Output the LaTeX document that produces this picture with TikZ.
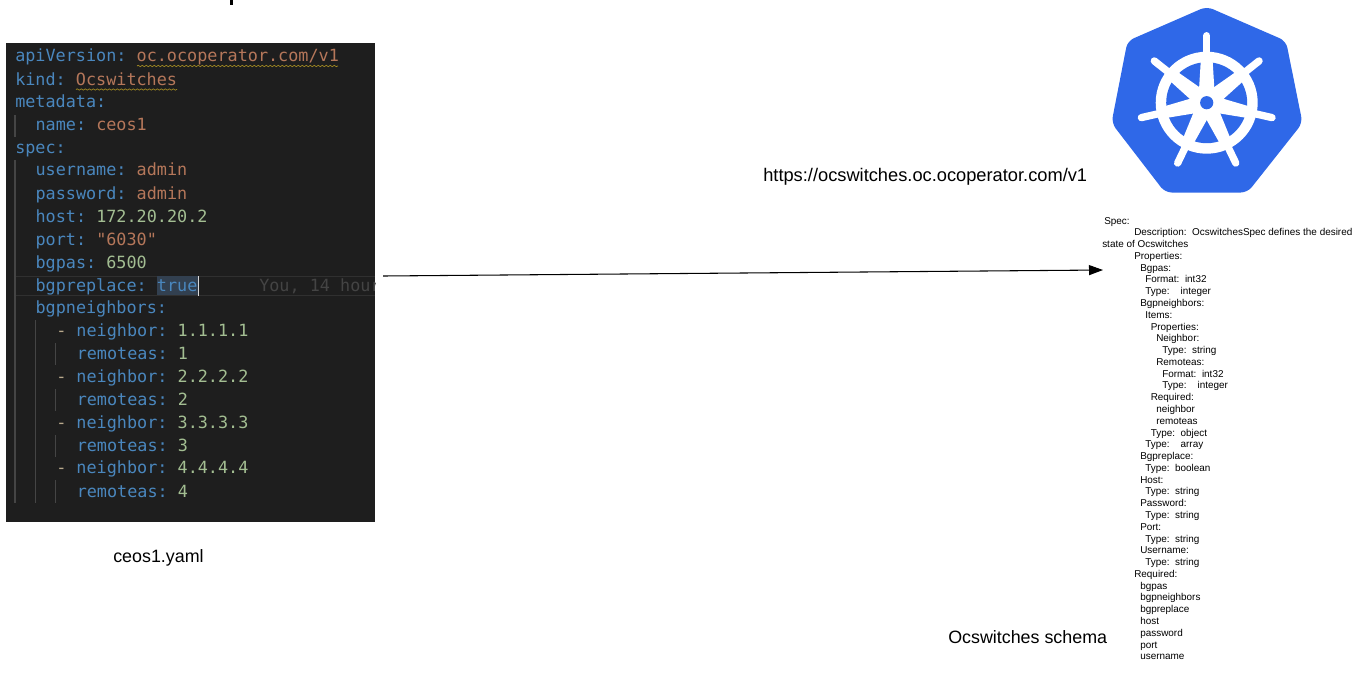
\documentclass[tikz,border=0pt]{standalone}
\usepackage{fontspec}
\usepackage{tikz}
\usetikzlibrary{arrows.meta, decorations.pathmorphing}
\setmainfont{Liberation Sans}
\newfontfamily\yamlfont{DejaVu Sans Mono}
\definecolor{panelbg}{HTML}{1E1E1E}
\definecolor{yamlkey}{HTML}{4A87BE}
\definecolor{yamlstr}{HTML}{B5775A}
\definecolor{yamlnum}{HTML}{A3BE92}
\definecolor{yamldash}{HTML}{B9A98C}
\definecolor{guideline}{HTML}{454545}
\definecolor{squiggle}{HTML}{A88F22}
\definecolor{selectbg}{HTML}{324050}
\definecolor{ghosttext}{HTML}{444444}
\definecolor{kubeblue}{HTML}{2F68E8}
\newcommand{\ykey}[1]{\textcolor{yamlkey}{#1}}
\newcommand{\ystr}[1]{\textcolor{yamlstr}{#1}}
\newcommand{\ynum}[1]{\textcolor{yamlnum}{#1}}

\begin{document}
\begin{tikzpicture}[
  x=0.75pt, y=-0.75pt,
  yamlline/.style={anchor=base west, inner sep=0pt, text=yamlkey,
                   font=\yamlfont\fontsize{12.6}{14}\selectfont\frenchspacing},
  guide/.style={guideline, line width=0.9pt},
  wavy/.style={squiggle, line width=0.5pt, decorate,
               decoration={snake, amplitude=0.5pt, segment length=3pt}},
  caption/.style={anchor=base west, inner sep=0pt, text=black,
                  font=\fontsize{13.4}{15}\selectfont},
  schemaline/.style={anchor=base west, inner sep=0pt, text=black,
                     font=\fontsize{7.45}{8}\selectfont},
]

\useasboundingbox (0, 0) rectangle (1367, 672);

\fill[black] (230.3, 0) rectangle (232.5, 4.7);

\fill[panelbg] (6, 43) rectangle (375, 522);
\draw[white!8!panelbg, line width=0.6pt] (15, 276) -- (375, 276);
\draw[white!8!panelbg, line width=0.6pt] (15, 295) -- (375, 295);
\fill[selectbg] (157, 276) rectangle (198, 295);
\fill[white!85!black] (197.6, 275.5) rectangle (199, 295.5);

\draw[guide] (15, 115) -- (15, 137);
\draw[guide] (15, 160) -- (15, 503);
\draw[guide] (35.3, 320) -- (35.3, 503);
\draw[guide] (55.5, 343) -- (55.5, 365);
\draw[guide] (55.5, 389) -- (55.5, 411);
\draw[guide] (55.5, 435) -- (55.5, 457);
\draw[guide] (55.5, 480) -- (55.5, 503);

\node[yamlline] (apiline) at (15, 61.7) {apiVersion: \ystr{oc.ocoperator.com/v1}};
\node[yamlline] (kindline) at (15, 85) {kind: \ystr{Ocswitches}};
\node[yamlline] (metaline) at (15, 107.7) {metadata:};
\node[yamlline] (nameline) at (35.3, 130.6) {name: \ystr{ceos1}};
\node[yamlline] (specline) at (15, 153.5) {spec:};
\node[yamlline] (userline) at (35.3, 175.7) {username: \ystr{admin}};
\node[yamlline] (passline) at (35.3, 199) {password: \ystr{admin}};
\node[yamlline] (hostline) at (35.3, 222) {host: \ynum{172.20.20.2}};
\node[yamlline] (portline) at (35.3, 245) {port: \ystr{"6030"}};
\node[yamlline] (bgpasline) at (35.3, 268) {bgpas: \ynum{6500}};
\node[yamlline] (replline) at (35.3, 291) {bgpreplace: true};
\node[yamlline] (neighline) at (35.3, 313.5) {bgpneighbors:};
\node[yamlline] (peerone) at (56, 336) {\textcolor{yamldash}{-} neighbor: \ynum{1.1.1.1}};
\node[yamlline] (asone) at (76.5, 359) {remoteas: \ynum{1}};
\node[yamlline] (peertwo) at (56, 382) {\textcolor{yamldash}{-} neighbor: \ynum{2.2.2.2}};
\node[yamlline] (astwo) at (76.5, 405) {remoteas: \ynum{2}};
\node[yamlline] (peerthree) at (56, 428) {\textcolor{yamldash}{-} neighbor: \ynum{3.3.3.3}};
\node[yamlline] (asthree) at (76.5, 451) {remoteas: \ynum{3}};
\node[yamlline] (peerfour) at (56, 473.5) {\textcolor{yamldash}{-} neighbor: \ynum{4.4.4.4}};
\node[yamlline] (asfour) at (76.5, 497) {remoteas: \ynum{4}};

\begin{scope}
  \clip (6, 43) rectangle (375, 522);
  \node[yamlline, text=ghosttext] (ghostline) at (259, 291) {You, 14 hours ago};
\end{scope}

\draw[wavy] (137, 66) -- (338, 66);
\draw[wavy] (76, 89.5) -- (177, 89.5);

\node[caption] (yamlname) at (113, 562) {ceos1.yaml};
\node[caption, font=\fontsize{13.7}{15}\selectfont] (crdurl) at (763, 181) {https://ocswitches.oc.ocoperator.com/v1};
\node[caption] (schemaname) at (948, 643) {Ocswitches schema};

\fill[kubeblue, rounded corners=5pt]
  (1206.7, 6.5) -- (1286, 41) -- (1302.5, 123) -- (1247.5, 192.5)
  -- (1165, 192.5) -- (1111.5, 123) -- (1127.5, 41) -- cycle;

\begin{scope}[shift={(1206.7, 102.7)}]
  \fill[white] (0, 0) circle (51);
  \fill[kubeblue] (0, 0) circle (40.5);
  \foreach \a in {0, 51.43, 102.86, 154.29, 205.71, 257.14, 308.57} {
    \fill[white, rotate=\a] (-8.5, 0) -- (-5.8, -44) -- (5.8, -44) -- (8.5, 0) -- cycle;
    \draw[white, line width=5.5pt, line cap=round, rotate=\a] (0, -44) -- (0, -67);
  }
  \fill[white] (0, 0) circle (14);
  \fill[kubeblue] (0, 0) circle (6.6);
\end{scope}

\coordinate (arrowstart) at (383, 276);
\coordinate (arrowend) at (1103, 270);
\draw[-{Triangle[length=10.5pt, width=7.5pt]}, black, line width=0.8pt] (arrowstart) -- (arrowend);

\foreach \x/\t [count=\i from 0] in {
  1104/Spec:,
  1134/{Description:\ \ OcswitchesSpec defines the desired},
  1102/state of Ocswitches,
  1134/Properties:,
  1140/Bgpas:,
  1145/{Format:\ \ int32},
  1145/{Type:\ \ \ \ integer},
  1140/Bgpneighbors:,
  1145/Items:,
  1150.5/Properties:,
  1156/Neighbor:,
  1162/{Type:\ \ string},
  1156/Remoteas:,
  1162/{Format:\ \ int32},
  1162/{Type:\ \ \ \ integer},
  1150.5/Required:,
  1156/neighbor,
  1156/remoteas,
  1150.5/{Type:\ \ object},
  1145/{Type:\ \ \ \ array},
  1140/Bgpreplace:,
  1145/{Type:\ \ boolean},
  1140/Host:,
  1145/{Type:\ \ string},
  1140/Password:,
  1145/{Type:\ \ string},
  1140/Port:,
  1145/{Type:\ \ string},
  1140/Username:,
  1145/{Type:\ \ string},
  1134/Required:,
  1140/bgpas,
  1140/bgpneighbors,
  1140/bgpreplace,
  1140/host,
  1140/password,
  1140/port,
  1140/username%
} {
  \node[schemaline] (schema\i) at (\x, 224 + 11.78*\i) {\t};
}

\end{tikzpicture}
\end{document}
